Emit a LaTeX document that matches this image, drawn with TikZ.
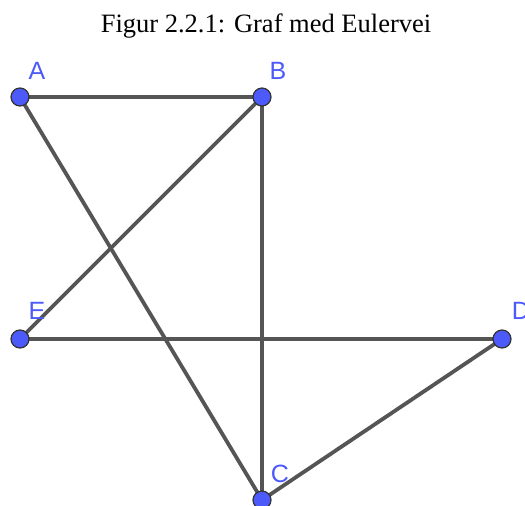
\documentclass[tikz,border=0pt]{standalone}
\usepackage{fontspec}
\setmainfont{Liberation Serif}
\newfontfamily\labelfont{Liberation Sans}
\definecolor{ptblue}{RGB}{77,90,250}
\definecolor{lblblue}{RGB}{77,90,250}
\definecolor{edgegray}{RGB}{85,85,85}
\begin{document}
\begin{tikzpicture}[x=1pt,y=-1pt,
  vtx/.style={circle,fill=ptblue,draw=black!80,line width=1.2pt,minimum size=18pt,inner sep=0pt},
  edge/.style={draw=edgegray,line width=3.8pt},
  lbl/.style={text=lblblue,font=\labelfont\fontsize{25}{25}\selectfont,inner sep=0pt},
  title/.style={font=\fontsize{26.5}{26.5}\selectfont,inner sep=0pt}]
\useasboundingbox (0,0) rectangle (525,506);
\node[title,anchor=base] (t) at (266,32) {Figur 2.2.1: Graf med Eulervei};
\coordinate (A) at (20,97);
\coordinate (B) at (262,97);
\coordinate (C) at (262,500);
\coordinate (D) at (502,339);
\coordinate (E) at (20,339);
\draw[edge] (A) -- (B);
\draw[edge] (A) -- (C);
\draw[edge] (B) -- (C);
\draw[edge] (B) -- (E);
\draw[edge] (E) -- (D);
\draw[edge] (D) -- (C);
\node[vtx] (a) at (A) {};
\node[vtx] (b) at (B) {};
\node[vtx] (c) at (C) {};
\node[vtx] (d) at (D) {};
\node[vtx] (e) at (E) {};
\node[lbl] (la) at (37,71) {A};
\node[lbl] (lb) at (278,71) {B};
\node[lbl] (lc) at (280,474) {C};
\node[lbl] (ld) at (521,311) {D};
\node[lbl] (le) at (37,311) {E};
\end{tikzpicture}
\end{document}
